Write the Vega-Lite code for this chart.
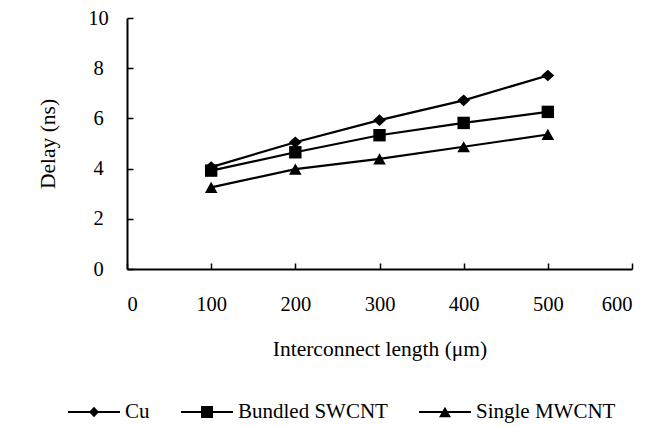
{
  "$schema": "https://vega.github.io/schema/vega-lite/v6.json",
  "autosize": {"type": "none"},
  "width": 505,
  "height": 251,
  "padding": {"left": 127, "top": 18, "right": 16, "bottom": 157},
  "background": "white",
  "config": {
    "view": {"stroke": null},
    "font": "Liberation Serif",
    "axis": {
      "grid": false,
      "domainColor": "black",
      "domainWidth": 2,
      "tickColor": "black",
      "tickWidth": 1.5,
      "tickSize": -6,
      "labelFont": "Liberation Serif",
      "labelFontSize": 20.5,
      "labelColor": "black",
      "titleFont": "Liberation Serif",
      "titleFontSize": 21.5,
      "titleFontWeight": "normal",
      "titleColor": "black"
    },
    "legend": {
      "labelFont": "Liberation Serif",
      "labelFontSize": 21,
      "labelColor": "black"
    }
  },
  "data": {
    "values": [
      {"length": 100, "delay": 4.06, "series": "Cu"},
      {"length": 200, "delay": 5.05, "series": "Cu"},
      {"length": 300, "delay": 5.93, "series": "Cu"},
      {"length": 400, "delay": 6.72, "series": "Cu"},
      {"length": 500, "delay": 7.71, "series": "Cu"},
      {"length": 100, "delay": 3.92, "series": "Bundled SWCNT"},
      {"length": 200, "delay": 4.65, "series": "Bundled SWCNT"},
      {"length": 300, "delay": 5.33, "series": "Bundled SWCNT"},
      {"length": 400, "delay": 5.82, "series": "Bundled SWCNT"},
      {"length": 500, "delay": 6.26, "series": "Bundled SWCNT"},
      {"length": 100, "delay": 3.25, "series": "Single MWCNT"},
      {"length": 200, "delay": 3.98, "series": "Single MWCNT"},
      {"length": 300, "delay": 4.39, "series": "Single MWCNT"},
      {"length": 400, "delay": 4.87, "series": "Single MWCNT"},
      {"length": 500, "delay": 5.36, "series": "Single MWCNT"}
    ]
  },
  "encoding": {
    "x": {
      "field": "length",
      "type": "quantitative",
      "scale": {"domain": [0, 600], "nice": false, "zero": false},
      "axis": {
        "values": [0, 100, 200, 300, 400, 500, 600],
        "format": "d",
        "title": "Interconnect length (μm)",
        "labelPadding": 31,
        "titlePadding": 24
      }
    },
    "y": {
      "field": "delay",
      "type": "quantitative",
      "scale": {"domain": [0, 10], "nice": false},
      "axis": {
        "values": [0, 2, 4, 6, 8, 10],
        "title": "Delay (ns)",
        "labelAlign": "center",
        "labelPadding": 35,
        "titlePadding": 28
      }
    }
  },
  "layer": [
    {
      "mark": {"type": "line", "color": "black", "strokeWidth": 2.2},
      "encoding": {"detail": {"field": "series"}}
    },
    {
      "mark": {"type": "point", "filled": true, "color": "black", "opacity": 1, "size": 400},
      "encoding": {
        "shape": {
          "field": "series",
          "type": "nominal",
          "scale": {
            "domain": ["Cu", "Bundled SWCNT", "Single MWCNT"],
            "range": [
              "M0,-0.58L0.64,0L0,0.58L-0.64,0Z",
              "M-0.62,-0.62H0.62V0.62H-0.62Z",
              "M0,-0.56L0.63,0.56H-0.63Z"
            ]
          },
          "legend": null
        }
      }
    },
    {
      "mark": {"type": "point", "filled": true, "color": "black", "opacity": 0, "size": 2704},
      "encoding": {
        "shape": {
          "field": "series",
          "type": "nominal",
          "scale": {
            "domain": ["Cu", "Bundled SWCNT", "Single MWCNT"],
            "range": [
              "M-1,-0.04H1V0.04H-1Z M0,-0.2L0.19,0L0,0.2L-0.19,0Z",
              "M-1,-0.04H1V0.04H-1Z M-0.23,-0.23H0.23V0.23H-0.23Z",
              "M-1,-0.04H1V0.04H-1Z M0,-0.2L0.23,0.2H-0.23Z"
            ]
          },
          "legend": {
            "title": null,
            "orient": "none",
            "direction": "horizontal",
            "legendX": -59,
            "legendY": 368,
            "columns": 3,
            "columnPadding": 31,
            "labelOffset": 5,
            "labelLimit": 300,
            "symbolSize": 2704,
            "symbolOpacity": 1,
            "symbolFillColor": "black",
            "symbolStrokeWidth": 0,
            "padding": 0
          }
        }
      }
    }
  ],
  "resolve": {"scale": {"shape": "independent"}}
}
